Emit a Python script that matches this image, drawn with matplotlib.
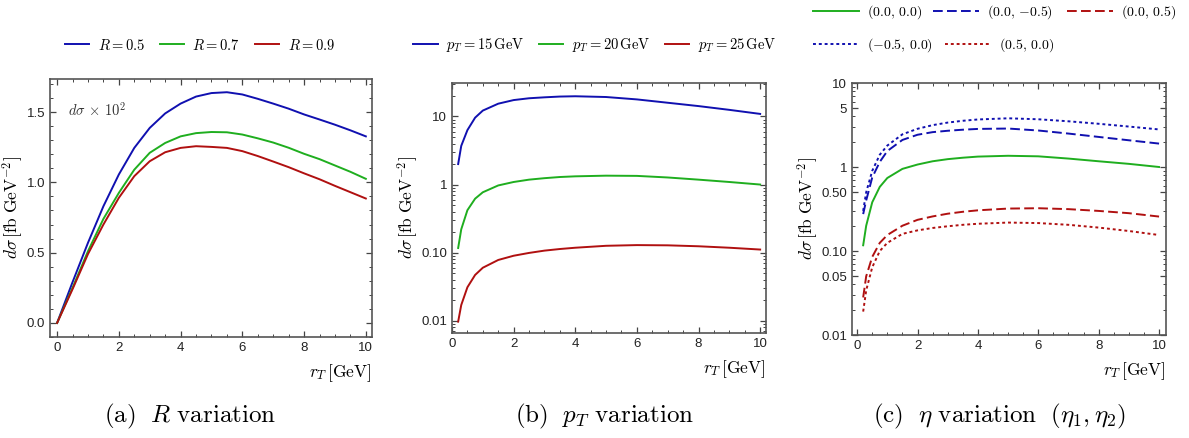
import matplotlib
matplotlib.use("Agg")
import matplotlib.pyplot as plt
from matplotlib.ticker import MultipleLocator, FixedLocator, FixedFormatter, LogLocator, NullFormatter

plt.rcParams["mathtext.fontset"] = "cm"
plt.rcParams["font.family"] = ["Liberation Sans", "DejaVu Sans"]

# colours
BLUE = "#1010b0"
GREEN = "#1fae1f"
RED = "#b01010"

# ---- panel (a): R variation (x 10^2) -------------------------------------
xa = [0, 0.5, 1, 1.5, 2, 2.5, 3, 3.5, 4, 4.5, 5, 5.5, 6, 6.5, 7, 7.5, 8, 8.5, 9, 9.5, 10]
a_R05 = [0, 0.29, 0.57, 0.83, 1.056, 1.245, 1.387, 1.49, 1.56, 1.61, 1.635, 1.641, 1.625,
         1.594, 1.56, 1.524, 1.483, 1.447, 1.41, 1.37, 1.327]
a_R07 = [0, 0.25, 0.51, 0.74, 0.925, 1.09, 1.21, 1.28, 1.327, 1.35, 1.358, 1.356, 1.34,
         1.313, 1.283, 1.246, 1.203, 1.165, 1.12, 1.075, 1.025]
a_R09 = [0, 0.24, 0.49, 0.70, 0.89, 1.044, 1.15, 1.214, 1.245, 1.257, 1.252, 1.245, 1.222,
         1.187, 1.148, 1.108, 1.064, 1.022, 0.975, 0.93, 0.885]

# ---- panel (b): pT variation ------------------------------------------------
xb = [0.2, 0.3, 0.5, 0.75, 1, 1.5, 2, 2.5, 3, 3.5, 4, 5, 6, 7, 8, 9, 10]
b_pt15 = [2.0, 3.7, 6.3, 9.6, 12.2, 15.4, 17.4, 18.5, 19.1, 19.6, 19.8, 19.3, 17.8,
          15.9, 14.2, 12.5, 10.9]
b_pt20 = [0.117, 0.22, 0.42, 0.62, 0.77, 0.97, 1.09, 1.18, 1.24, 1.29, 1.32, 1.35, 1.34,
          1.27, 1.18, 1.09, 1.0]
b_pt25 = [0.0097, 0.017, 0.031, 0.047, 0.060, 0.078, 0.090, 0.099, 0.107, 0.113, 0.118,
          0.126, 0.129, 0.128, 0.124, 0.118, 0.111]

# ---- panel (c): eta variation (eta1, eta2) ---------------------------------
xc = [0.2, 0.3, 0.5, 0.75, 1, 1.5, 2, 2.5, 3, 3.5, 4, 5, 6, 7, 8, 9, 10]
c_00_00 = [0.117, 0.2, 0.38, 0.58, 0.74, 0.95, 1.07, 1.17, 1.24, 1.29, 1.33, 1.36, 1.34,
           1.26, 1.17, 1.09, 1.0]
c_00_m05 = [0.275, 0.4, 0.75, 1.15, 1.55, 2.1, 2.42, 2.6, 2.7, 2.78, 2.84, 2.87, 2.72,
            2.5, 2.28, 2.08, 1.9]
c_00_p05 = [0.028, 0.05, 0.085, 0.125, 0.155, 0.2, 0.235, 0.258, 0.278, 0.293, 0.305,
            0.32, 0.323, 0.315, 0.3, 0.282, 0.257]
c_m05_00 = [0.3, 0.5, 0.9, 1.4, 1.8, 2.45, 2.85, 3.15, 3.38, 3.55, 3.68, 3.8, 3.7,
            3.5, 3.27, 3.03, 2.8]
c_p05_00 = [0.019, 0.034, 0.064, 0.1, 0.125, 0.16, 0.176, 0.188, 0.197, 0.205, 0.211,
            0.218, 0.215, 0.205, 0.19, 0.173, 0.155]

W, H = 1189, 438
fig = plt.figure(figsize=(W / 100, H / 100), dpi=100)


def box(l, r, t, b):
    return [l / W, 1 - b / H, (r - l) / W, (b - t) / H]


def style(ax):
    for s in ax.spines.values():
        s.set_color("#555555")
        s.set_linewidth(1.2)
    ax.tick_params(which="both", direction="in", top=True, right=True,
                   color="#444444", labelsize=9.5, labelcolor="#222222")
    ax.tick_params(which="major", length=4.5, width=0.9)
    ax.tick_params(which="minor", length=2.5, width=0.7)
    ax.xaxis.set_major_locator(MultipleLocator(2))
    ax.xaxis.set_minor_locator(MultipleLocator(0.5))
    ax.set_ylabel(r"$d\sigma\,[\mathrm{fb\ GeV}^{-2}]$", fontsize=12.5, labelpad=1)
    ax.set_xlabel(r"$r_T\,[\mathrm{GeV}]$", fontsize=12.5, loc="right", labelpad=6)


lw = 1.4
leg_kw = dict(frameon=False, fontsize=10.5, handlelength=1.65, columnspacing=1.0,
              handletextpad=0.6, borderpad=0, ncol=3, loc="center")

# (a)
ax1 = fig.add_axes(box(50, 372, 79, 337))
ax1.plot(xa, a_R05, color=BLUE, lw=lw, label=r"$R = 0.5$")
ax1.plot(xa, a_R07, color=GREEN, lw=lw, label=r"$R = 0.7$")
ax1.plot(xa, a_R09, color=RED, lw=lw, label=r"$R = 0.9$")
ax1.set_xlim(-0.23, 10.2)
ax1.set_ylim(-0.1, 1.735)
ax1.yaxis.set_major_locator(FixedLocator([0, 0.5, 1.0, 1.5]))
ax1.yaxis.set_major_formatter(FixedFormatter(["0.0", "0.5", "1.0", "1.5"]))
ax1.yaxis.set_minor_locator(MultipleLocator(0.1))
style(ax1)
ax1.text(0.055, 0.88, r"$d\sigma\,\times\,10^2$", transform=ax1.transAxes,
         fontsize=10.5, color="#333333", va="center")
ax1.legend(bbox_to_anchor=(200 / W, 1 - 45 / H), bbox_transform=fig.transFigure, **leg_kw)

# (b)
ax2 = fig.add_axes(box(452, 766, 83, 333))
ax2.plot(xb, b_pt15, color=BLUE, lw=lw, label=r"$p_T = 15\,\mathrm{GeV}$")
ax2.plot(xb, b_pt20, color=GREEN, lw=lw, label=r"$p_T = 20\,\mathrm{GeV}$")
ax2.plot(xb, b_pt25, color=RED, lw=lw, label=r"$p_T = 25\,\mathrm{GeV}$")
ax2.set_yscale("log")
ax2.set_xlim(0, 10.19)
ax2.set_ylim(0.0066, 31)
ax2.yaxis.set_major_locator(FixedLocator([0.01, 0.1, 1, 10]))
ax2.yaxis.set_major_formatter(FixedFormatter(["0.01", "0.10", "1", "10"]))
ax2.yaxis.set_minor_locator(LogLocator(base=10, subs=range(2, 10)))
ax2.yaxis.set_minor_formatter(NullFormatter())
style(ax2)
ax2.legend(bbox_to_anchor=(595 / W, 1 - 45 / H), bbox_transform=fig.transFigure, **leg_kw)

# (c)
ax3 = fig.add_axes(box(852, 1166, 83, 335))
l1, = ax3.plot(xc, c_00_00, color=GREEN, lw=lw)
l2, = ax3.plot(xc, c_00_m05, color=BLUE, lw=lw, ls=(0, (5, 2.2)))
l3, = ax3.plot(xc, c_00_p05, color=RED, lw=lw, ls=(0, (5, 2.2)))
l4, = ax3.plot(xc, c_m05_00, color=BLUE, lw=lw, ls=(0, (1.5, 1.5)))
l5, = ax3.plot(xc, c_p05_00, color=RED, lw=lw, ls=(0, (1.5, 1.5)))
ax3.set_yscale("log")
ax3.set_xlim(-0.17, 10.23)
ax3.set_ylim(0.01, 10)
ax3.yaxis.set_major_locator(FixedLocator([0.01, 0.05, 0.1, 0.5, 1, 5, 10]))
ax3.yaxis.set_major_formatter(FixedFormatter(["0.01", "0.05", "0.10", "0.50", "1", "5", "10"]))
ax3.yaxis.set_minor_locator(LogLocator(base=10, subs=range(2, 10)))
ax3.yaxis.set_minor_formatter(NullFormatter())
style(ax3)

# legend of (c): entries flow in two rows like the original
legc_kw = dict(loc="center left", frameon=False, fontsize=10, handlelength=3.3,
               handletextpad=0.6, borderpad=0, borderaxespad=0)
entries = [
    (l1, r"$(0.0,\,0.0)$", 813, 12),
    (l2, r"$(0.0,\,{-}0.5)$", 933, 12),
    (l3, r"$(0.0,\,0.5)$", 1067, 12),
    (l4, r"$({-}0.5,\,0.0)$", 813, 45),
    (l5, r"$(0.5,\,0.0)$", 945, 45),
]
for handle, text, px, py in entries:
    fig.legend([handle], [text], bbox_to_anchor=(px / W, 1 - py / H), **legc_kw)

# captions
cap_y = 1 - 416 / H
fig.text(190 / W, cap_y, r"$\mathrm{(a)}\ \ R\ \mathrm{variation}$", fontsize=18, ha="center", va="center")
fig.text(605 / W, cap_y, r"$\mathrm{(b)}\ \ p_T\ \mathrm{variation}$", fontsize=18, ha="center", va="center")
fig.text(1000 / W, cap_y, r"$\mathrm{(c)}\ \ \eta\ \mathrm{variation}\ \ (\eta_1, \eta_2)$",
         fontsize=18, ha="center", va="center")

fig.savefig("out.png", dpi=100)
